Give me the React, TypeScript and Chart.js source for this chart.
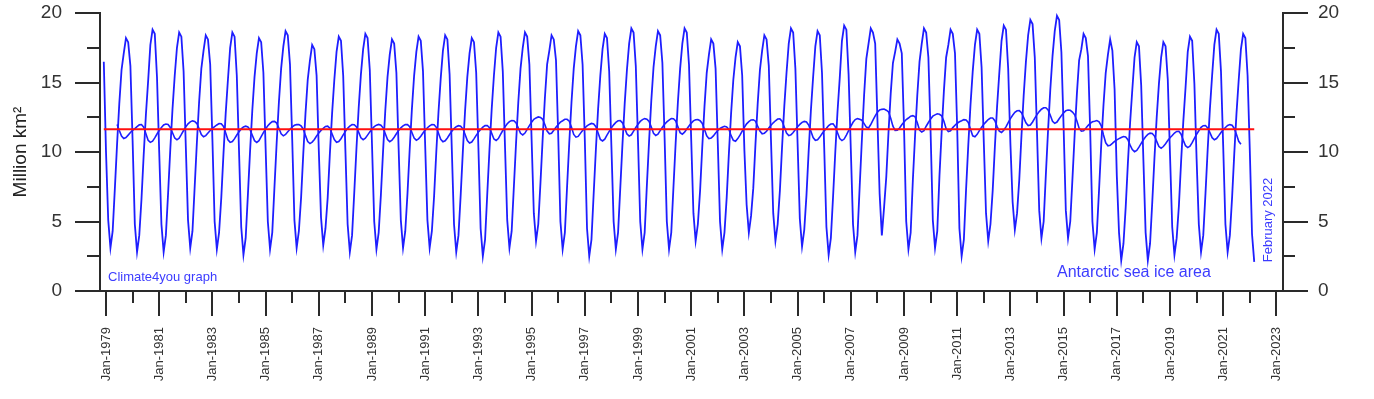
import React, { useEffect, useRef } from 'react';
import { Chart, registerables } from 'chart.js';

Chart.register(...registerables);

// ---- Data: monthly Antarctic sea ice area (million km2), Nov 1978 .. Feb 2022 ----
const firstYear = 1978;
const firstMonth = 11; // November
const seaIceArea: number[] = [
  16.5, 10.0, // 1978 Nov-Dec
  5.1, 3.1, 4.3, 7.4, 10.6, 13.5, 15.9, 17.1, 18.2, 17.9, 16.2, 10.8, // 1979
  4.8, 2.8, 4.0, 6.6, 9.8, 12.7, 15.1, 17.7, 18.8, 18.5, 15.4, 10.0, // 1980
  4.8, 2.8, 4.0, 7.0, 10.2, 13.1, 15.5, 17.5, 18.6, 18.3, 15.8, 10.4, // 1981
  5.1, 3.1, 4.3, 7.5, 10.7, 13.6, 16.0, 17.3, 18.4, 18.1, 16.3, 10.9, // 1982
  5.0, 3.0, 4.2, 6.7, 9.9, 12.8, 15.2, 17.5, 18.6, 18.3, 15.5, 10.1, // 1983
  4.6, 2.6, 3.8, 6.9, 10.1, 13.0, 15.4, 17.1, 18.2, 17.9, 15.7, 10.3, // 1984
  5.0, 3.0, 4.2, 7.5, 10.7, 13.6, 16.0, 17.6, 18.7, 18.4, 16.3, 10.9, // 1985
  5.1, 3.1, 4.3, 6.7, 9.9, 12.8, 15.2, 16.6, 17.7, 17.4, 15.5, 10.1, // 1986
  5.3, 3.3, 4.5, 6.7, 9.9, 12.8, 15.2, 17.2, 18.3, 18.0, 15.5, 10.1, // 1987
  4.8, 2.8, 4.0, 7.1, 10.3, 13.2, 15.6, 17.4, 18.5, 18.2, 15.9, 10.5, // 1988
  5.0, 3.0, 4.2, 6.9, 10.1, 13.0, 15.4, 17.0, 18.1, 17.8, 15.7, 10.3, // 1989
  5.1, 3.1, 4.3, 7.0, 10.2, 13.1, 15.5, 17.2, 18.3, 18.0, 15.8, 10.4, // 1990
  5.1, 3.1, 4.3, 6.8, 10.0, 12.9, 15.3, 17.3, 18.4, 18.1, 15.6, 10.2, // 1991
  4.8, 2.8, 4.0, 6.9, 10.1, 13.0, 15.4, 17.1, 18.2, 17.9, 15.7, 10.3, // 1992
  4.5, 2.5, 3.7, 7.0, 10.2, 13.1, 15.5, 17.5, 18.6, 18.3, 15.8, 10.4, // 1993
  5.1, 3.1, 4.3, 7.5, 10.7, 13.6, 16.0, 17.5, 18.6, 18.3, 16.3, 10.9, // 1994
  5.6, 3.6, 4.8, 7.8, 11.0, 13.9, 16.3, 17.3, 18.4, 18.1, 16.6, 11.2, // 1995
  5.0, 3.0, 4.2, 7.5, 10.7, 13.6, 16.0, 17.6, 18.7, 18.4, 16.3, 10.9, // 1996
  4.5, 2.5, 3.7, 7.0, 10.2, 13.1, 15.5, 17.4, 18.5, 18.2, 15.8, 10.4, // 1997
  5.0, 3.0, 4.2, 7.4, 10.6, 13.5, 15.9, 17.8, 18.9, 18.6, 16.2, 10.8, // 1998
  5.0, 3.0, 4.2, 7.6, 10.8, 13.7, 16.1, 17.6, 18.7, 18.4, 16.4, 11.0, // 1999
  5.0, 3.0, 4.2, 7.5, 10.7, 13.6, 16.0, 17.8, 18.9, 18.6, 16.3, 10.9, // 2000
  5.6, 3.6, 4.8, 7.2, 10.4, 13.3, 15.7, 17.0, 18.1, 17.8, 16.0, 10.6, // 2001
  5.0, 3.0, 4.2, 6.7, 9.9, 12.8, 15.2, 16.8, 17.9, 17.6, 15.5, 10.1, // 2002
  6.2, 4.2, 5.4, 7.4, 10.6, 13.5, 15.9, 17.3, 18.4, 18.1, 16.2, 10.8, // 2003
  5.6, 3.6, 4.8, 7.2, 10.4, 13.3, 15.7, 17.8, 18.9, 18.6, 16.0, 10.6, // 2004
  5.2, 3.2, 4.4, 6.9, 10.1, 13.0, 15.4, 17.6, 18.7, 18.4, 15.7, 10.3, // 2005
  4.6, 2.6, 3.8, 6.8, 10.0, 12.9, 15.3, 18.0, 19.1, 18.8, 15.6, 10.2, // 2006
  4.8, 2.8, 4.0, 7.5, 10.9, 14.1, 16.7, 17.8, 18.9, 18.6, 17.8, 12.4, // 2007
  7.0, 4.0, 6.0, 8.2, 11.4, 14.2, 16.4, 17.2, 18.1, 17.8, 17.1, 11.8, // 2008
  5.0, 3.0, 4.2, 8.0, 11.2, 14.1, 16.5, 17.8, 18.9, 18.6, 16.8, 11.4, // 2009
  5.1, 3.1, 4.3, 8.3, 11.5, 14.4, 16.8, 17.7, 18.8, 18.5, 17.1, 11.7, // 2010
  4.5, 2.5, 3.7, 7.3, 10.5, 13.4, 15.8, 17.7, 18.8, 18.5, 16.1, 10.7, // 2011
  5.6, 3.6, 4.8, 7.2, 10.4, 13.3, 15.7, 18.0, 19.1, 18.8, 16.0, 10.6, // 2012
  6.4, 4.4, 5.6, 8.0, 11.2, 14.1, 16.5, 18.4, 19.5, 19.2, 16.8, 11.4, // 2013
  5.8, 3.8, 5.0, 8.4, 11.6, 14.5, 16.9, 18.7, 19.8, 19.5, 17.2, 11.8, // 2014
  5.8, 3.8, 5.0, 8.1, 11.3, 14.2, 16.6, 17.4, 18.5, 18.2, 16.9, 11.5, // 2015
  5.0, 3.0, 4.2, 7.3, 10.6, 13.4, 15.7, 17.0, 18.1, 17.3, 14.5, 8.3, // 2016
  4.2, 2.2, 3.4, 6.0, 9.2, 12.1, 14.5, 16.8, 17.9, 17.6, 14.8, 9.4, // 2017
  4.2, 2.2, 3.4, 6.4, 9.6, 12.5, 14.9, 16.8, 17.9, 17.6, 15.2, 9.8, // 2018
  4.6, 2.6, 3.8, 6.1, 9.3, 12.2, 14.6, 17.2, 18.3, 18.0, 14.9, 9.5, // 2019
  4.8, 2.8, 4.0, 7.0, 10.2, 13.1, 15.5, 17.7, 18.8, 18.5, 15.8, 10.4, // 2020
  4.8, 2.8, 4.0, 6.7, 9.9, 12.8, 15.2, 17.4, 18.5, 18.2, 15.5, 10.1, // 2021
  4.1, 2.1, // 2022 Jan-Feb
];

const runningWindow = 13; // centred running mean, months
const referenceLevel = 11.63; // average level (red line)

const yMajorTicks = [0, 5, 10, 15, 20];
const yMinorTicks = [2.5, 7.5, 12.5, 17.5];
const xLabelYears = [1979, 1981, 1983, 1985, 1987, 1989, 1991, 1993, 1995, 1997, 1999, 2001,
  2003, 2005, 2007, 2009, 2011, 2013, 2015, 2017, 2019, 2021, 2023];
const xLabels = ['Jan-1979', 'Jan-1981', 'Jan-1983', 'Jan-1985', 'Jan-1987', 'Jan-1989', 'Jan-1991',
  'Jan-1993', 'Jan-1995', 'Jan-1997', 'Jan-1999', 'Jan-2001', 'Jan-2003', 'Jan-2005', 'Jan-2007',
  'Jan-2009', 'Jan-2011', 'Jan-2013', 'Jan-2015', 'Jan-2017', 'Jan-2019', 'Jan-2021', 'Jan-2023'];
const xMinorYears = [1980, 1982, 1984, 1986, 1988, 1990, 1992, 1994, 1996, 1998, 2000, 2002,
  2004, 2006, 2008, 2010, 2012, 2014, 2016, 2018, 2020, 2022];

const xMin = 1978.774;
const xMax = 2023.248;

const yAxisTitle = 'Million km²';
const creditText = 'Climate4you graph';
const seriesText = 'Antarctic sea ice area';
const dateText = 'February 2022';

// ---- styles ----
const FONT = '"Liberation Sans", Arial, sans-serif';
const axisColor = '#2a2a2a';
const labelColor = '#333333';
const blue = 'rgb(30,30,255)';
const textBlue = 'rgb(60,60,255)';
const red = '#ff1010';

const monthX = (i: number) => firstYear + (firstMonth + i) / 12;

function buildSeries() {
  return seaIceArea.map((v, i) => ({ x: monthX(i), y: v }));
}

function buildRunningMean() {
  const half = (runningWindow - 1) / 2;
  const out: { x: number; y: number }[] = [];
  for (let i = half; i < seaIceArea.length - half; i++) {
    let s = 0;
    for (let k = i - half; k <= i + half; k++) s += seaIceArea[k];
    out.push({ x: monthX(i), y: s / runningWindow });
  }
  return out;
}

const zeroPadding = (s: any) => {
  s.paddingTop = 0;
  s.paddingBottom = 0;
  s.paddingLeft = 0;
  s.paddingRight = 0;
};

const framePlugin = {
  id: 'frame',
  afterDraw(chart: any) {
    const { ctx, chartArea: a, scales } = chart;
    const xs = scales.x;
    const ys = scales.y;
    const line = (x1: number, y1: number, x2: number, y2: number) => {
      ctx.beginPath();
      ctx.moveTo(x1, y1);
      ctx.lineTo(x2, y2);
      ctx.stroke();
    };
    ctx.save();
    ctx.strokeStyle = axisColor;
    ctx.lineWidth = 2;
    const L = Math.round(a.left);
    const R = Math.round(a.right);
    const y0 = Math.round(ys.getPixelForValue(0));
    const yTop = Math.round(ys.getPixelForValue(20));
    line(L, yTop - 1, L, y0);
    line(R, yTop - 1, R, y0);
    line(L - 25, y0, R + 25, y0);
    yMajorTicks.forEach((v) => {
      const py = Math.round(ys.getPixelForValue(v));
      line(L - 25, py, L, py);
      line(R, py, R + 25, py);
    });
    yMinorTicks.forEach((v) => {
      const py = Math.round(ys.getPixelForValue(v));
      line(L - 13, py, L, py);
      line(R, py, R + 12, py);
    });
    xLabelYears.forEach((v) => {
      const px = Math.round(xs.getPixelForValue(v));
      line(px, y0, px, y0 + 25);
    });
    xMinorYears.forEach((v) => {
      const px = Math.round(xs.getPixelForValue(v));
      line(px, y0, px, y0 + 12);
    });

    ctx.fillStyle = textBlue;
    ctx.textBaseline = 'middle';
    ctx.textAlign = 'left';
    ctx.font = `13px ${FONT}`;
    ctx.fillText(creditText, 108, 277);
    ctx.font = `16px ${FONT}`;
    ctx.fillText(seriesText, 1057, 273);
    ctx.save();
    ctx.translate(1268, 220);
    ctx.rotate(-Math.PI / 2);
    ctx.textAlign = 'center';
    ctx.font = `13px ${FONT}`;
    ctx.fillText(dateText, 0, 0);
    ctx.restore();
    ctx.restore();
  },
};

export default function App() {
  const canvasRef = useRef<HTMLCanvasElement | null>(null);

  useEffect(() => {
    const canvas = canvasRef.current;
    if (!canvas) return;
    const series = buildSeries();
    const mean = buildRunningMean();
    const lastX = monthX(seaIceArea.length - 1);

    const chart = new Chart(canvas, {
      type: 'line',
      data: {
        datasets: [
          {
            label: 'Average',
            data: [
              { x: monthX(0), y: referenceLevel },
              { x: lastX, y: referenceLevel },
            ],
            borderColor: red,
            borderWidth: 2,
            pointRadius: 0,
            order: 0,
          },
          {
            label: '13-month running mean',
            data: mean,
            borderColor: blue,
            borderWidth: 1.6,
            pointRadius: 0,
            order: 1,
          },
          {
            label: 'Monthly',
            data: series,
            borderColor: blue,
            borderWidth: 1.8,
            pointRadius: 0,
            order: 2,
          },
        ],
      },
      options: {
        animation: false,
        responsive: false,
        maintainAspectRatio: false,
        events: [],
        layout: { padding: { top: 13, left: 0, right: 0, bottom: 0 } },
        plugins: { legend: { display: false }, tooltip: { enabled: false } },
        elements: { line: { tension: 0, fill: false } },
        scales: {
          x: {
            type: 'linear',
            position: 'bottom',
            min: xMin,
            max: xMax,
            grid: { display: false, drawTicks: false },
            border: { display: false },
            afterBuildTicks: (s: any) => {
              s.ticks = xLabelYears.map((v) => ({ value: v }));
            },
            afterFit: (s: any) => {
              s.height = 108;
              zeroPadding(s);
            },
            ticks: {
              autoSkip: false,
              minRotation: 90,
              maxRotation: 90,
              padding: 36,
              color: labelColor,
              font: { family: FONT, size: 13 },
              callback: (v: any) => {
                const idx = xLabelYears.indexOf(Math.round(Number(v)));
                return idx >= 0 ? xLabels[idx] : '';
              },
            },
          },
          y: {
            position: 'left',
            min: 0,
            max: 20,
            grid: { display: false, drawTicks: false },
            border: { display: false },
            afterBuildTicks: (s: any) => {
              s.ticks = yMajorTicks.map((v) => ({ value: v }));
            },
            afterFit: (s: any) => {
              s.width = 100;
              zeroPadding(s);
            },
            ticks: {
              padding: 38,
              color: labelColor,
              font: { family: FONT, size: 19 },
            },
            title: {
              display: true,
              text: yAxisTitle,
              color: '#222222',
              font: { family: FONT, size: 19 },
              padding: { top: 9, bottom: 0 },
            },
          },
          y2: {
            position: 'right',
            min: 0,
            max: 20,
            grid: { display: false, drawTicks: false },
            border: { display: false },
            afterBuildTicks: (s: any) => {
              s.ticks = yMajorTicks.map((v) => ({ value: v }));
            },
            afterFit: (s: any) => {
              s.width = 91;
              zeroPadding(s);
            },
            ticks: {
              padding: 35,
              color: labelColor,
              font: { family: FONT, size: 19 },
            },
          },
        },
      },
      plugins: [framePlugin],
    } as any);

    return () => chart.destroy();
  }, []);

  return (
    <div style={{ position: 'absolute', left: 0, top: 0, width: 1374, height: 399, background: '#ffffff' }}>
      <canvas ref={canvasRef} width={1374} height={399} style={{ display: 'block', width: 1374, height: 399 }} />
    </div>
  );
}
